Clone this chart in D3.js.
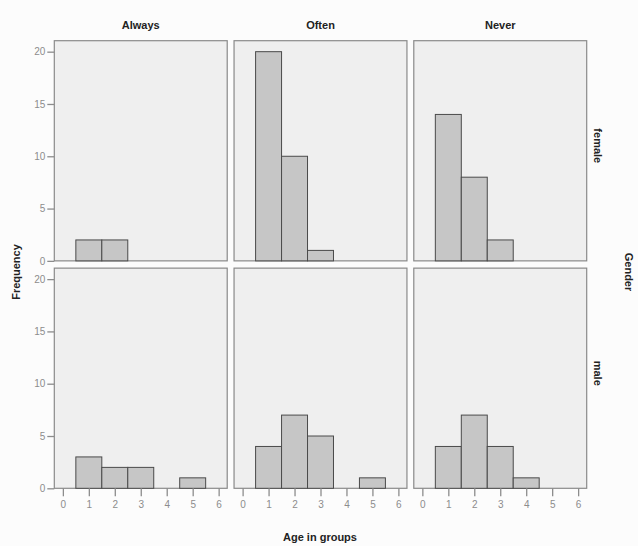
<!DOCTYPE html>
<html>
<head>
<meta charset="utf-8">
<script src="https://cdn.jsdelivr.net/npm/d3@7"></script>
<style>
  body { margin: 0; background: #fcfcfc; }
  svg { display: block; font-family: "Liberation Sans", Arial, sans-serif; }
</style>
</head>
<body>
<div id="chart_container"></div>
<script>
// frequency per age group (0..6), one array per panel
let frequency = ["Always", "Often", "Never"];
let gender = ["female", "male"];
let ageGroups = [0, 1, 2, 3, 4, 5, 6];
let yTicks = [0, 5, 10, 15, 20];

let femaleAlways = [0, 2, 2, 0, 0, 0, 0];
let femaleOften  = [0, 20, 10, 1, 0, 0, 0];
let femaleNever  = [0, 14, 8, 2, 0, 0, 0];
let maleAlways   = [0, 3, 2, 2, 0, 1, 0];
let maleOften    = [0, 4, 7, 5, 0, 1, 0];
let maleNever    = [0, 4, 7, 4, 1, 0, 0];

let panelData = {
  female: [femaleAlways, femaleOften, femaleNever],
  male: [maleAlways, maleOften, maleNever]
};

let svgWidth = 638;
let svgHeight = 546;

let svg = d3.select("#chart_container")
  .append("svg")
  .attr("width", svgWidth)
  .attr("height", svgHeight);

// panel layout
let colScale = d3.scaleBand()
  .domain(frequency)
  .range([54.3, 586.7])
  .paddingInner(0.038);

let rowScale = d3.scaleBand()
  .domain(gender)
  .range([40.7, 488.3])
  .paddingInner(0.032);

let panelW = colScale.bandwidth();
let panelH = rowScale.bandwidth();

let xScale = d3.scaleLinear()
  .domain([-0.33, 6.33])
  .range([0, panelW]);

let yScale = d3.scaleLinear()
  .domain([0, 21.05])
  .range([panelH, 0]);

let panelFill = "#efefef";
let panelStroke = "#8a8a8a";
let barFill = "#c6c6c6";
let barStroke = "#4a4a4a";
let tickColor = "#8c8c8c";

gender.forEach((g, ri) => {
  frequency.forEach((f, ci) => {
    let panel = svg.append("g")
      .attr("transform", "translate(" + [colScale(f), rowScale(g)] + ")");

    panel.append("rect")
      .attr("width", panelW)
      .attr("height", panelH)
      .attr("fill", panelFill)
      .attr("stroke", panelStroke)
      .attr("stroke-width", 1.2);

    let bars = ageGroups
      .map((a, i) => ({age: a, count: panelData[g][ci][i]}))
      .filter(d => d.count > 0);

    panel.selectAll(".bar")
      .data(bars)
      .enter()
      .append("rect")
      .attr("class", "bar")
      .attr("x", d => xScale(d.age - 0.5))
      .attr("y", d => yScale(d.count))
      .attr("width", d => xScale(d.age + 0.5) - xScale(d.age - 0.5))
      .attr("height", d => yScale(0) - yScale(d.count))
      .attr("fill", barFill)
      .attr("stroke", barStroke)
      .attr("stroke-width", 1);

    // y axis on first column
    if (ci === 0) {
      let yAxis = d3.axisLeft(yScale)
        .tickValues(yTicks)
        .tickFormat(d3.format("d"))
        .tickSize(7)
        .tickPadding(2);
      let ay = panel.append("g").call(yAxis);
      ay.select(".domain").remove();
      ay.selectAll(".tick line").attr("stroke", tickColor).attr("stroke-width", 1.3);
      ay.selectAll(".tick text")
        .attr("fill", tickColor)
        .attr("font-size", 10);
    }

    // x axis on bottom row
    if (ri === gender.length - 1) {
      let xAxis = d3.axisBottom(xScale)
        .tickValues(ageGroups)
        .tickFormat(d3.format("d"))
        .tickSize(8)
        .tickPadding(5);
      let ax = panel.append("g")
        .attr("transform", "translate(0," + panelH + ")")
        .call(xAxis);
      ax.select(".domain").remove();
      ax.selectAll(".tick line").attr("stroke", tickColor).attr("stroke-width", 1.3);
      ax.selectAll(".tick text")
        .attr("fill", tickColor)
        .attr("font-size", 10);
    }
  });
});

// column headers
svg.selectAll(".colLabel")
  .data(frequency)
  .enter()
  .append("text")
  .attr("class", "colLabel")
  .attr("x", d => colScale(d) + panelW / 2)
  .attr("y", 29)
  .attr("text-anchor", "middle")
  .attr("font-size", 11)
  .attr("font-weight", "bold")
  .attr("fill", "#222")
  .text(d => d);

// row labels
svg.selectAll(".rowLabel")
  .data(gender)
  .enter()
  .append("text")
  .attr("class", "rowLabel")
  .attr("transform", d => "translate(" + [594, rowScale(d) + panelH / 2 - 5] + ") rotate(90)")
  .attr("text-anchor", "middle")
  .attr("font-size", 11)
  .attr("font-weight", "bold")
  .attr("fill", "#222")
  .text(d => d);

svg.append("text")
  .attr("transform", "translate(" + [625, 272] + ") rotate(90)")
  .attr("text-anchor", "middle")
  .attr("font-size", 11)
  .attr("font-weight", "bold")
  .attr("fill", "#222")
  .text("Gender");

svg.append("text")
  .attr("transform", "translate(" + [20, 272] + ") rotate(-90)")
  .attr("text-anchor", "middle")
  .attr("font-size", 11)
  .attr("font-weight", "bold")
  .attr("fill", "#222")
  .text("Frequency");

svg.append("text")
  .attr("x", 320)
  .attr("y", 541)
  .attr("text-anchor", "middle")
  .attr("font-size", 11)
  .attr("font-weight", "bold")
  .attr("fill", "#222")
  .text("Age in groups");
</script>
</body>
</html>
